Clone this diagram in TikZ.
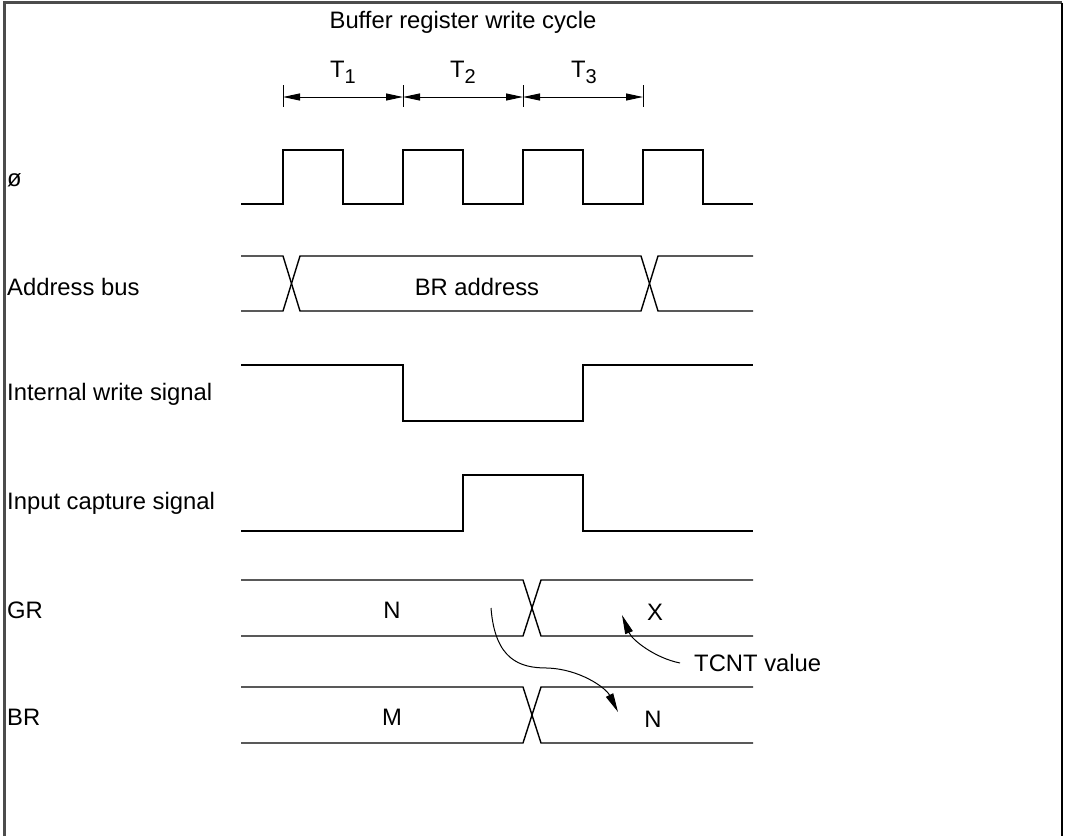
\documentclass[tikz,border=0pt]{standalone}
\usepackage{fontspec}
\setmainfont{Liberation Sans}
\usetikzlibrary{arrows.meta}
\newcommand{\tsub}[1]{\raisebox{-6pt}{\fontsize{20}{24}\selectfont #1}}
\begin{document}
\begin{tikzpicture}[x=1pt,y=-1pt]
\tikzset{
  wave/.style={line width=1.4pt,black,line join=miter},
  lbl/.style={font=\fontsize{23.8}{28}\selectfont, inner sep=0pt},
  sig/.style={lbl,anchor=west},
  dimline/.style={line width=1pt,{Triangle[length=17pt,width=7pt]}-{Triangle[length=17pt,width=7pt]}},
  tick/.style={line width=1pt},
  tiparrow/.style={line width=1pt,-{Triangle[length=19pt,width=8pt]}}
}
\useasboundingbox (0,0) rectangle (1065,836);
% frame
\draw[line width=2.5pt, black!70] (4.5,836) -- (4.5,2.5) -- (1062,2.5);
\draw[line width=1.2pt] (1062,2.5) -- (1062,836);
% title
\node[lbl] (title) at (463,22) {Buffer register write cycle};
% dimension ticks
\foreach \n/\x in {a/283,b/403,c/523,d/643}{
  \coordinate (t\n top) at (\x,85);
  \coordinate (t\n bot) at (\x,107);
  \coordinate (t\n) at (\x,97);
  \draw[tick] (t\n top) -- (t\n bot);
}
\draw[dimline] (ta) -- (tb);
\draw[dimline] (tb) -- (tc);
\draw[dimline] (tc) -- (td);
\node[lbl,anchor=base] (T1) at (343,77) {T\tsub{1}};
\node[lbl,anchor=base] (T2) at (463,77) {T\tsub{2}};
\node[lbl,anchor=base] (T3) at (584,77) {T\tsub{3}};
% labels
\node[sig] (lphi) at (7,180) {ø};
\node[sig] (laddr) at (7,287) {Address bus};
\node[sig] (lws) at (7,394) {Internal write signal};
\node[sig] (lic) at (7,503) {Input capture signal};
\node[sig] (lgr) at (7,610) {GR};
\node[sig] (lbr) at (7,717) {BR};
% clock
\draw[wave] (241,204) -- (283,204) -- (283,150) -- (343,150) -- (343,204) -- (403,204) -- (403,150) -- (463,150) -- (463,204) -- (523,204) -- (523,150) -- (583,150) -- (583,204) -- (643,204) -- (643,150) -- (703,150) -- (703,204) -- (753,204);
% address bus
\draw[wave] (241,256) -- (283,256) -- (300,311) -- (641,311) -- (658,256) -- (753,256);
\draw[wave] (241,311) -- (283,311) -- (300,256) -- (641,256) -- (658,311) -- (753,311);
\node[lbl] (braddr) at (477,287) {BR address};
% internal write signal
\draw[wave] (241,365) -- (403,365) -- (403,421) -- (583,421) -- (583,365) -- (753,365);
% input capture signal
\draw[wave] (241,531) -- (463,531) -- (463,475) -- (583,475) -- (583,531) -- (753,531);
% GR
\draw[wave] (241,580) -- (523,580) -- (541,636) -- (753,636);
\draw[wave] (241,636) -- (523,636) -- (541,580) -- (753,580);
\node[lbl] (grN) at (392,610) {N};
\node[lbl] (grX) at (655,612) {X};
% BR
\draw[wave] (241,687) -- (523,687) -- (541,743) -- (753,743);
\draw[wave] (241,743) -- (523,743) -- (541,687) -- (753,687);
\node[lbl] (brM) at (392,717) {M};
\node[lbl] (brN) at (653,719) {N};
% TCNT
\node[lbl,anchor=west] (tcnt) at (694,663) {TCNT value};
% arrows
\coordinate (c1s) at (491,608);
\coordinate (c1e) at (618,712);
\draw[tiparrow] (c1s) .. controls (495,660) and (520,668) .. (547,668) .. controls (580,669) and (606,688) .. (c1e);
\coordinate (c2e) at (622,615);
\draw[tiparrow] (tcnt.west) ++(-14,0) coordinate (c2s) .. controls (655,658) and (632,640) .. (c2e);
\end{tikzpicture}
\end{document}
